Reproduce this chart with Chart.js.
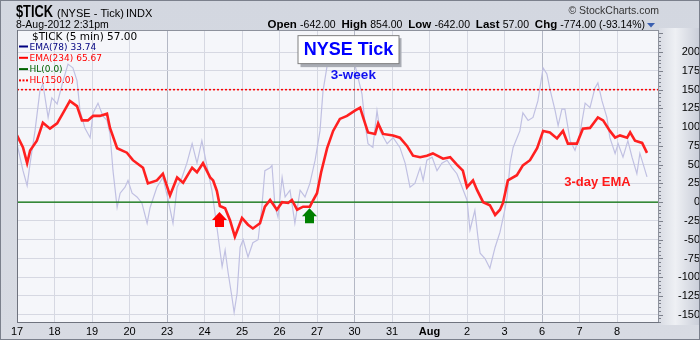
<!DOCTYPE html>
<html>
<head>
<meta charset="utf-8">
<script src="https://cdn.jsdelivr.net/npm/chart.js@4.4.1/dist/chart.umd.min.js"></script>
<style>
  html, body { margin: 0; padding: 0; background: #d5d9e2; }
  #wrap { width: 700px; height: 340px; }
</style>
</head>
<body>
<div id="wrap"><canvas id="tickChart" width="700" height="340"></canvas></div>
<script>
// trading days on the x axis (one unit = one session)
var dayLabels = ['17', '18', '19', '20', '23', '24', '25', '26', '27', '30', '31', 'Aug', '2', '3', '6', '7', '8'];
var weekStarts = [4, 9, 14];

// EMA(234) of $TICK, position in sessions and value
var ema234X = [0.00, 0.16, 0.27, 0.35, 0.53, 0.69, 0.88, 1.07, 1.23, 1.41, 1.60, 1.73, 1.89, 2.03, 2.21, 2.40, 2.48, 2.67,
  2.93, 3.09, 3.36, 3.49, 3.73, 3.89, 4.08, 4.27, 4.43, 4.67, 4.80, 4.96, 5.15, 5.23, 5.33, 5.41, 5.55, 5.68, 5.81,
  6.00, 6.16, 6.29, 6.48, 6.61, 6.75, 6.93, 7.07, 7.23, 7.33, 7.47, 7.63, 7.81, 7.87, 8.00, 8.11, 8.27, 8.43, 8.61,
  8.80, 9.01, 9.15, 9.23, 9.36, 9.55, 9.63, 9.76, 10.03, 10.21, 10.40, 10.56, 10.75, 10.93, 11.09, 11.36, 11.55,
  11.73, 11.89, 12.00, 12.16, 12.27, 12.43, 12.61, 12.75, 12.88, 12.96, 13.09, 13.33, 13.49, 13.68, 13.87, 14.03,
  14.21, 14.40, 14.56, 14.69, 14.93, 15.09, 15.28, 15.49, 15.63, 15.81, 15.95, 16.08, 16.27, 16.35, 16.48, 16.67, 16.80];
var ema234 = [89, 73, 52, 69, 82, 106, 98, 105, 119, 135, 128, 109, 109, 115, 115, 118, 99, 72,
  66, 56, 46, 25, 29, 38, 9, 33, 26, 46, 40, 52, 33, 29, 15, -5, -8, -24, -46,
  -21, -30, -35, -28, -6, 3, -10, 0, -1, 3, -10, -6, -6, 0, 12, 40, 72, 95, 111,
  115, 122, 126, 113, 93, 91, 105, 91, 89, 86, 75, 62, 60, 62, 65, 58, 60,
  50, 42, 20, 29, 16, 0, -4, -17, -10, -1, 29, 36, 49, 56, 72, 95,
  93, 85, 95, 78, 78, 98, 99, 113, 109, 95, 86, 89, 86, 93, 82, 79, 65.67];

// EMA(78) of $TICK
var ema78X = [0.00, 0.16, 0.27, 0.35, 0.48, 0.61, 0.69, 0.83, 0.93, 1.07, 1.23, 1.36, 1.49, 1.60, 1.68, 1.81, 1.95,
  2.03, 2.16, 2.29, 2.40, 2.48, 2.56, 2.67, 2.75, 2.88, 2.96, 3.07, 3.20, 3.33, 3.47, 3.55, 3.73, 3.89, 4.03, 4.16,
  4.27, 4.40, 4.53, 4.67, 4.80, 4.93, 5.07, 5.20, 5.33, 5.47, 5.55, 5.63, 5.73, 5.79, 5.87, 5.95, 6.03, 6.16, 6.29,
  6.43, 6.53, 6.61, 6.75, 6.80, 6.88, 6.96, 7.07, 7.15, 7.28, 7.41, 7.55, 7.68, 7.81, 7.95, 8.08, 8.16, 8.29, 8.43,
  8.56, 8.69, 8.80, 8.93, 9.07, 9.20, 9.28, 9.36, 9.49, 9.60, 9.68, 9.87, 10.03, 10.21, 10.35, 10.48, 10.61, 10.75,
  10.83, 10.93, 11.07, 11.20, 11.33, 11.47, 11.60, 11.73, 11.87, 12.00, 12.08, 12.21, 12.29, 12.35, 12.48, 12.61,
  12.75, 12.88, 13.01, 13.07, 13.15, 13.23, 13.41, 13.49, 13.63, 13.76, 13.89, 14.03, 14.13, 14.21, 14.35, 14.43,
  14.53, 14.61, 14.75, 14.88, 15.01, 15.15, 15.28, 15.41, 15.49, 15.60, 15.73, 15.81, 15.95, 16.03, 16.16, 16.29,
  16.40, 16.53, 16.61, 16.69, 16.80];
var ema78 = [78, 42, 22, 52, 95, 148, 158, 113, 139, 131, 162, 184, 179, 162, 122, 99, 86,
  119, 132, 115, 109, 91, 42, -7, 12, 20, 29, 12, 7, -1, -28, -7, 20, 33, 3, -28,
  20, 33, 52, 78, 52, 82, 47, 15, -33, -86, -64, -94, -126, -147, -121, -60, -50, -73, -54,
  -50, -6, 42, 46, 49, -6, -20, 33, 7, 16, -28, 16, 7, 25, 56, 95, 148, 188, 215,
  220, 205, 184, 200, 171, 144, 105, 78, 73, 122, 95, 78, 86, 73, 52, 20, 25, 46,
  29, 56, 60, 42, 52, 56, 46, 38, 20, 3, -37, -11, -46, -68, -75, -88,
  -60, -40, -10, 7, 52, 73, 95, 119, 109, 113, 135, 179, 171, 151, 122, 102,
  124, 124, 82, 69, 91, 132, 126, 152, 159, 135, 113, 86, 65, 78, 60, 82,
  60, 38, 65, 52, 33.74];

var zeroLevel = 0;
var upperLevel = 150;

var quoteLabels = ['Open', 'High', 'Low', 'Last', 'Chg'];
var quoteValues = ['-642.00', '854.00', '-642.00', '57.00', '-774.00 (-93.14%)'];
var legendItems = ['EMA(78) 33.74', 'EMA(234) 65.67', 'HL(0.0)', 'HL(150.0)'];
var legendColors = ['#000080', '#ff0000', '#006400', '#ff0000'];

var xMax = 17.12;

function toPoints(xs, ys) {
  return xs.map(function (x, i) { return { x: x, y: ys[i] }; });
}

function levelLine(v) {
  return [{ x: 0, y: v }, { x: xMax, y: v }];
}

function upArrow(ctx, cx, tipY, color) {
  ctx.fillStyle = color;
  ctx.beginPath();
  ctx.moveTo(cx, tipY);
  ctx.lineTo(cx + 7.5, tipY + 8);
  ctx.lineTo(cx + 4.5, tipY + 8);
  ctx.lineTo(cx + 4.5, tipY + 15);
  ctx.lineTo(cx - 4.5, tipY + 15);
  ctx.lineTo(cx - 4.5, tipY + 8);
  ctx.lineTo(cx - 7.5, tipY + 8);
  ctx.closePath();
  ctx.fill();
}

// text squeezed to a fixed width (narrow bold symbol in the header)
function fitText(ctx, text, x, y, w) {
  var natural = ctx.measureText(text).width;
  ctx.save();
  ctx.translate(x, y);
  ctx.scale(w / natural, 1);
  ctx.fillText(text, 0, 0);
  ctx.restore();
}

var frame = {
  id: 'frame',
  beforeDraw: function (chart) {
    var ctx = chart.ctx, a = chart.chartArea;
    ctx.save();
    var bg = ctx.createLinearGradient(0, 0, 0, 340);
    bg.addColorStop(0, '#d3d7e0');
    bg.addColorStop(1, '#d8dbe3');
    ctx.fillStyle = bg;
    ctx.fillRect(0, 0, 700, 340);
    var strip = ctx.createLinearGradient(a.right, 0, 700, 0);
    strip.addColorStop(0, '#d9dce4');
    strip.addColorStop(0.4, '#eef0f4');
    strip.addColorStop(1, '#c9cdd8');
    ctx.fillStyle = strip;
    ctx.fillRect(a.right, a.top - 2, 700 - a.right - 1, a.bottom - a.top + 4);
    ctx.fillStyle = '#f5f6fa';
    ctx.fillRect(a.left, a.top, a.right - a.left, a.bottom - a.top);
    ctx.restore();
  },
  afterDraw: function (chart) {
    var ctx = chart.ctx, a = chart.chartArea;
    var xs = chart.scales.x, ys = chart.scales.y;
    ctx.save();

    // plot frame and right axis ticks
    ctx.strokeStyle = '#8e929d';
    ctx.lineWidth = 1;
    ctx.strokeRect(a.left + 0.5, a.top + 0.5, a.right - a.left - 1, a.bottom - a.top - 1);
    ctx.strokeStyle = '#6f737e';
    ctx.beginPath();
    ctx.moveTo(a.left + 0.5, a.top); ctx.lineTo(a.left + 0.5, a.bottom);
    ctx.moveTo(a.left, a.bottom - 0.5); ctx.lineTo(a.right, a.bottom - 0.5);
    ctx.stroke();
    ctx.strokeStyle = '#7d818c';
    ctx.beginPath();
    for (var v = -160; v <= 225; v += 5) {
      var py = Math.round(ys.getPixelForValue(v)) + 0.5;
      var len = v % 25 === 0 ? 4 : 2;
      ctx.moveTo(a.right, py); ctx.lineTo(a.right + len, py);
    }
    ctx.stroke();

    // outer border
    ctx.strokeStyle = '#7b808c';
    ctx.strokeRect(0.5, 0.5, 699, 339);

    // header
    ctx.textBaseline = 'alphabetic';
    ctx.fillStyle = '#000';
    ctx.font = 'bold 16px "Liberation Sans", Arial';
    fitText(ctx, '$TICK', 16, 17, 37);
    ctx.font = '11px "Liberation Sans", Arial';
    ctx.fillText('(NYSE - Tick)', 57, 17);
    ctx.fillText('INDX', 126, 17);
    ctx.font = '10.5px "Liberation Sans", Arial';
    ctx.fillText('8-Aug-2012 2:31pm', 16, 28);

    ctx.font = '10.5px "Liberation Sans", Arial';
    ctx.fillStyle = '#333';
    ctx.textAlign = 'right';
    ctx.fillText('\u00a9 StockCharts.com', 659, 14);
    ctx.textAlign = 'left';

    var parts = [];
    quoteLabels.forEach(function (l, i) {
      parts.push(['bold 11.5px "Liberation Sans", Arial', l + ' ']);
      parts.push(['10.5px "Liberation Sans", Arial', quoteValues[i] + (i < quoteLabels.length - 1 ? '  ' : '')]);
    });
    var total = 0;
    parts.forEach(function (p) { ctx.font = p[0]; total += ctx.measureText(p[1]).width; });
    var hx = 645 - total;
    ctx.fillStyle = '#000';
    parts.forEach(function (p) {
      ctx.font = p[0];
      ctx.fillText(p[1], hx, 28);
      hx += ctx.measureText(p[1]).width;
    });
    ctx.fillStyle = '#3a5fb0';
    ctx.beginPath();
    ctx.moveTo(647, 23); ctx.lineTo(655, 23); ctx.lineTo(651, 27.5); ctx.closePath();
    ctx.fill();

    // legend inside the plot
    ctx.fillStyle = '#000';
    ctx.font = '10.5px "DejaVu Sans", Verdana';
    ctx.fillText('$TICK (5 min) 57.00', 32, 40);
    ctx.font = '9px "DejaVu Sans", Verdana';
    legendItems.forEach(function (t, i) {
      var ly = 49.5 + i * 11.3;
      ctx.fillStyle = legendColors[i];
      if (i === 3) {
        for (var k = 0; k < 3; k++) ctx.fillRect(19 + k * 3.5, ly - 4, 2, 2);
      } else {
        ctx.fillRect(19, ly - 4, 9, 2);
      }
      ctx.fillText(t, 29.5, ly);
    });

    // title box
    var bx = xs.getPixelForValue(8.84), by = ys.getPixelForValue(204);
    ctx.fillStyle = '#a9acb4';
    ctx.fillRect(bx - 48, by - 11, 101, 29);
    ctx.fillStyle = '#fff';
    ctx.fillRect(bx - 50.5, by - 13.5, 101, 28);
    ctx.strokeStyle = '#808080';
    ctx.strokeRect(bx - 50.5, by - 13.5, 101, 28);
    ctx.fillStyle = '#0000ff';
    ctx.font = 'bold 18px "Liberation Sans", Arial';
    ctx.textAlign = 'center';
    ctx.textBaseline = 'middle';
    ctx.fillText('NYSE Tick', bx, by + 1);

    ctx.font = 'bold 13.5px "Liberation Sans", Arial';
    ctx.fillStyle = '#1010f0';
    ctx.fillText('3-week', xs.getPixelForValue(8.97), ys.getPixelForValue(169));
    ctx.font = 'bold 13px "Liberation Sans", Arial';
    ctx.fillStyle = '#ff1a1a';
    ctx.fillText('3-day EMA', xs.getPixelForValue(15.48), ys.getPixelForValue(27));

    // crossing arrows
    upArrow(ctx, xs.getPixelForValue(5.4), ys.getPixelForValue(-13), '#ff0000');
    upArrow(ctx, xs.getPixelForValue(7.8), ys.getPixelForValue(-8), '#008000');

    ctx.restore();
  }
};

new Chart(document.getElementById('tickChart'), {
  type: 'line',
  data: {
    datasets: [{
      label: 'EMA(234)',
      data: toPoints(ema234X, ema234),
      borderColor: '#ff2020',
      borderWidth: 2.6,
      pointRadius: 0,
      order: 0
    }, {
      label: 'HL(0.0)',
      data: levelLine(zeroLevel),
      borderColor: '#006e00',
      borderWidth: 1.2,
      pointRadius: 0,
      order: 1
    }, {
      label: 'HL(150.0)',
      data: levelLine(upperLevel),
      borderColor: '#ff0000',
      borderWidth: 1.5,
      borderDash: [2, 2],
      pointRadius: 0,
      order: 1
    }, {
      label: 'EMA(78)',
      data: toPoints(ema78X, ema78),
      borderColor: '#c0c0e2',
      borderWidth: 1.2,
      pointRadius: 0,
      order: 3
    }]
  },
  options: {
    responsive: false,
    animation: false,
    devicePixelRatio: 1,
    layout: { padding: { left: 17, top: 30, right: 0, bottom: 0 } },
    plugins: { legend: { display: false }, tooltip: { enabled: false } },
    scales: {
      x: {
        type: 'linear',
        min: 0,
        max: xMax,
        afterFit: function (s) { s.height = 17; },
        border: { display: false },
        grid: {
          drawTicks: false,
          color: function (c) {
            var v = c.tick ? c.tick.value : -1;
            if (v <= 0 || v >= dayLabels.length) return 'rgba(0,0,0,0)';
            return weekStarts.indexOf(v) >= 0 ? '#b4b8c5' : '#d6d8e2';
          }
        },
        ticks: {
          stepSize: 1,
          autoSkip: false,
          includeBounds: false,
          maxRotation: 0,
          padding: 2,
          color: '#000',
          font: function (c) {
            var bold = c.tick && dayLabels[c.tick.value] === 'Aug';
            return { size: 11, weight: bold ? 'bold' : 'normal', family: '"Liberation Sans", Arial' };
          },
          callback: function (v) { return dayLabels[v] || ''; }
        }
      },
      y: {
        position: 'right',
        min: -161,
        max: 229.5,
        afterFit: function (s) { s.width = 41; },
        border: { display: false },
        grid: {
          drawTicks: false,
          color: function (c) {
            var v = c.tick ? c.tick.value : 0;
            return v > 200 ? 'rgba(0,0,0,0)' : '#d6d8e2';
          }
        },
        ticks: {
          stepSize: 25,
          includeBounds: false,
          crossAlign: 'far',
          padding: 3,
          color: '#000',
          font: { size: 11, family: '"Liberation Sans", Arial' },
          callback: function (v) { return v > 200 ? '' : v; }
        }
      }
    }
  },
  plugins: [frame]
});
</script>
</body>
</html>
